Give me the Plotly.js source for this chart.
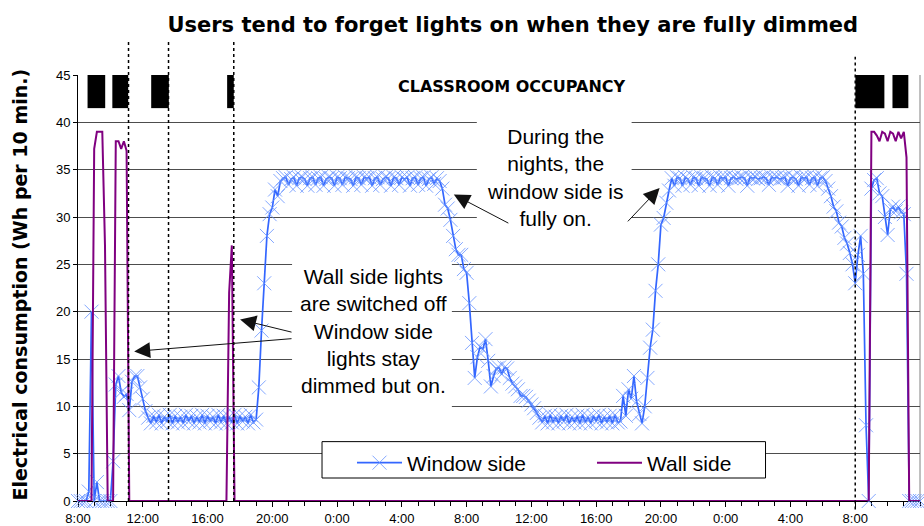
<!DOCTYPE html>
<html>
<head>
<meta charset="utf-8">
<script src="https://cdn.plot.ly/plotly-3.0.1.min.js"></script>
<style>html,body{margin:0;padding:0;background:#fff}#chart{width:924px;height:526px}</style>
</head>
<body>
<div id="chart"></div>
<script>
// ---- DATA (10-minute readings starting 8:00 on day 1) ----
const windowSide = [
  // 8:00 - 12:20
  0,0,0,0,1, 20,0,2,0,0, 0,0,0,4.2,12.3, 13.2,11.5,11.0,11.3,9.6, 12.6,13.2,13.2,12.0,10.8, 9.5,8.8,
  // dimmed afternoon
  8.2,9.0,8.3,9.1,8.2,8.9,8.4,9.1,8.2,9.0, 8.3,8.9,8.2,9.1,8.4,9.0,8.2,8.9,8.3,9.1,
  8.2,9.0,8.4,8.9,8.2,9.1,8.3,9.0,8.2,8.9, 8.3,9.1,8.2,9.0,8.4,8.9,8.2,9.1,8.3,8.6,
  // evening rise
  12.0,18.0,23.0,28.0,30.3,31.0,32.9,32.2,33.8,
  // night 1
  34.1,34.2,33.4,34.0,34.2,33.3,34.1,34.2,34.0,33.3,
  34.1,34.2,33.4,34.1,34.2,33.3,34.0,34.2,34.1,33.3,
  34.2,34.1,33.4,34.2,34.1,34.0,33.3,34.2,34.1,33.4,
  34.2,34.1,34.2,33.3,34.1,34.2,33.4,34.0,34.2,34.1,
  33.3,34.2,34.1,33.4,34.2,34.0,34.2,33.3,34.1,34.2,
  33.4,34.1,34.2,33.3,34.0,34.2,33.5,34.1,
  // morning day 2
  33.8,33.0,31.3,30.9,29.7,28.0,26.6,26.0,26.0,24.5,
  24.1,20.9,16.7,13.0,15.2,16.3,16.0,17.1,14.8,12.1,
  13.2,14.0,14.1,13.4,14.1,14.0,13.0,12.4,12.1,11.8,
  11.1,11.1,11.0,10.6,10.2,9.8,9.3,8.8,
  // dimmed day 2
  8.3,9.0,8.2,9.1,8.3,8.9,8.2,9.0,8.4,9.1,
  8.2,8.9,8.3,9.0,8.2,9.1,8.3,8.9,8.2,9.0,
  8.4,9.1,8.2,8.9,8.3,9.0,8.2,9.1,8.3,8.4,
  // evening day 2
  11.1,9.0,11.8,10.8,13.2,10.5,9.2,8.2,10.0,13.0,16.2,18.1,22.2,25.0,29.2,29.9,31.5,32.8,34.1,
  // night 2
  33.3,34.2,34.1,33.3,34.2,34.0,33.4,34.2,34.1,33.3,
  34.2,34.1,34.0,33.3,34.2,34.1,33.4,34.2,34.1,34.2,
  33.3,34.1,34.2,34.0,34.1,34.2,34.1,33.3,34.2,34.1,
  34.2,34.0,34.1,34.2,34.1,33.4,34.2,34.1,34.2,34.0,
  34.1,34.2,33.3,34.1,34.2,34.0,33.3,34.2,34.1,34.2,
  33.4,34.1,34.2,33.3,34.1,34.2,33.8,
  // morning day 3
  33.0,32.2,31.1,30.6,29.4,29.0,27.8,27.2,26.2,25.0,
  23.0,26.0,28.0,24.0,8.0,0,33.0,33.9,34.1,32.5,
  32.2,30.0,28.1,30.8,31.1,30.6,31.1,30.5,30.3,24.0,
  0,0,0,0,0
];

const wallSide = [
  0,0,0,0,0,0,
  37.2,39,39,39,27,0,0,0,38,38,37.2,38,37,0,
  0,0,0,0,0,0,0,0,0,0,0,0,0,0,0,0,0,0,0,0,
  0,0,0,0,0,0,0,0,0,0,0,0,0,0,0,0,
  22,27,0,
  0,0,0,0,0,0,0,0,0,0,0,0,0,0,0,0,0,0,0,0,
  0,0,0,0,0,0,0,0,0,0,0,0,0,0,0,0,0,0,0,0,
  0,0,0,0,0,0,0,0,0,0,0,0,0,0,0,0,0,0,0,0,
  0,0,0,0,0,0,0,0,0,0,0,0,0,0,0,0,0,0,0,0,
  0,0,0,0,0,0,0,0,0,0,0,0,0,0,0,0,0,0,0,0,
  0,0,0,0,0,0,0,0,0,0,0,0,0,0,0,0,0,0,0,0,
  0,0,0,0,0,0,0,0,0,0,0,0,0,0,0,0,0,0,0,0,
  0,0,0,0,0,0,0,0,0,0,0,0,0,0,0,0,0,0,0,0,
  0,0,0,0,0,0,0,0,0,0,0,0,0,0,0,0,0,0,0,0,
  0,0,0,0,0,0,0,0,0,0,0,0,0,0,0,0,0,0,0,0,
  0,0,0,0,0,0,0,0,0,0,0,0,0,0,0,0,0,0,0,0,
  0,0,0,0,0,0,0,0,0,0,0,0,0,0,0,
  39,39,38.6,38,39,38.8,38,39,38.8,38,39,38.3,39,36.3,
  0,0,0,0,0
];

// hours after 8:00 on day 1
const tickHours  = [0,4,8,12,16,20,24,28,32,36,40,44,48];
const tickLabels = ['8:00','12:00','16:00','20:00','0:00','4:00','8:00','12:00','16:00','20:00','0:00','4:00','8:00'];
const occupancyStart = [0.59, 2.12, 4.52, 9.21, 48.01, 50.30];
const occupancyEnd   = [1.68, 3.10, 5.61, 9.62, 49.80, 51.28];
const markerHours    = [3.12, 5.59, 9.62, 48.0];
const seriesNames    = ['Window side', 'Wall side'];

// ---- CHART ----
const traces = [
  {
    type: 'scatter', mode: 'lines+markers', name: seriesNames[0],
    y: windowSide, x0: 0, dx: 1/6,
    line: {color: '#3366ff', width: 1.7},
    marker: {symbol: 'x-thin', size: 14, color: '#6f95ff', line: {color: 'rgba(100,145,255,0.8)', width: 1}},
    cliponaxis: false, hoverinfo: 'skip'
  },
  {
    type: 'scatter', mode: 'lines', name: seriesNames[1],
    y: wallSide, x0: 0, dx: 1/6,
    line: {color: '#800080', width: 2},
    cliponaxis: false, hoverinfo: 'skip'
  }
];

const shapes = [];
// white boxes behind the text notes (hide gridlines)
shapes.push({type:'rect', xref:'x', yref:'y', x0:13.22, x1:23.09, y0:9.5, y1:26.6, fillcolor:'#fff', line:{width:0}, layer:'between'});
shapes.push({type:'rect', xref:'x', yref:'y', x0:24.63, x1:34.19, y0:27.6, y1:41.3, fillcolor:'#fff', line:{width:0}, layer:'between'});
// legend frame
shapes.push({type:'rect', xref:'x', yref:'y', x0:15.07, x1:42.46, y0:2.43, y1:6.27, fillcolor:'#fff', line:{color:'#000', width:1}, layer:'between'});
// occupancy blocks
occupancyStart.forEach((s, i) => {
  shapes.push({type:'rect', xref:'x', yref:'y', x0:s, x1:occupancyEnd[i], y0:41.5, y1:45, fillcolor:'#000', line:{width:0}, layer:'above'});
});
// dotted event lines
const dottedTop = [1.079, 1.079, 1.079, 1.043];
const dottedBottom = [0, 0, 0, -0.02];
markerHours.forEach((h, i) => {
  shapes.push({type:'line', xref:'x', yref:'paper', x0:h, x1:h, y0:dottedBottom[i], y1:dottedTop[i], line:{color:'#000', width:1.5, dash:'dot'}, layer:'above'});
});
// right frame edge
shapes.push({type:'line', xref:'x domain', yref:'paper', x0:1, x1:1, y0:0, y1:1, line:{color:'#808080', width:1}, layer:'between'});

const noteFont = {family:'Liberation Sans, Arial, sans-serif', size:21, color:'#000'};
function arrow(tipH, tipV, tailH, tailV) {
  return {x:tipH, y:tipV, xref:'x', yref:'y', ax:tailH, ay:tailV, axref:'x', ayref:'y',
          text:'', showarrow:true, arrowhead:2, arrowsize:3.2, arrowwidth:1, arrowcolor:'#111', standoff:0, startstandoff:0};
}
const annotations = [
  {x:18.22, y:18.0, xref:'x', yref:'y', showarrow:false, align:'center',
   text:'Wall side lights<br>are switched off<br>Window side<br>lights stay<br>dimmed but on.', font:noteFont},
  {x:29.45, y:34.16, xref:'x', yref:'y', showarrow:false, align:'center',
   text:'During the<br>nights, the<br>window side is<br>fully on.', font:noteFont},
  {x:26.82, y:43.77, xref:'x', yref:'y', showarrow:false,
   text:'<b>CLASSROOM OCCUPANCY</b>', font:{family:'DejaVu Sans', size:16, color:'#000'}},
  {x:-0.0689, y:0.508, xref:'paper', yref:'paper', showarrow:false, textangle:-90, xanchor:'center', yanchor:'middle',
   text:'<b>Electrical consumption (Wh per 10 min.)</b>', font:{family:'DejaVu Sans', size:19, color:'#000'}},
  arrow(3.47, 15.8, 13.28, 17.16),
  arrow(10.01, 19.17, 13.28, 17.8),
  arrow(23.21, 32.37, 26.67, 29.27),
  arrow(35.92, 33.07, 33.87, 29.38)
];

const tickFont = {family:'Liberation Sans, Arial, sans-serif', size:13, color:'#000'};
const layout = {
  width: 924, height: 526,
  margin: {l:78, r:4, t:75, b:25},
  paper_bgcolor: '#fff', plot_bgcolor: '#fff',
  title: {text:'<b>Users tend to forget lights on when they are fully dimmed</b>',
          font:{family:'DejaVu Sans', size:21, color:'#000'},
          x:0.555, xanchor:'center', xref:'container', y:0.954, yanchor:'middle', yref:'container'},
  xaxis: {range:[0,52], tickmode:'array', tickvals:tickHours, ticktext:tickLabels,
          ticks:'outside', ticklen:5, tickcolor:'#000', showline:true, linecolor:'#000', linewidth:1,
          showgrid:false, zeroline:false, tickfont:tickFont, layer:'below traces',
          minor:{dtick:1, tick0:0, ticks:'outside', ticklen:4, tickcolor:'#000', showgrid:false}},
  yaxis: {range:[0,45], tick0:0, dtick:5, ticks:'outside', ticklen:4, tickcolor:'#000',
          showline:true, linecolor:'#000', linewidth:1, showgrid:true, gridcolor:'#4d4d4d', gridwidth:1,
          zeroline:false, tickfont:tickFont, layer:'below traces'},
  showlegend: true,
  legend: {orientation:'h', x:0.3254, xanchor:'left', y:0.1373, yanchor:'top',
           bgcolor:'rgba(0,0,0,0)', borderwidth:0, font:noteFont,
           entrywidth:180, entrywidthmode:'pixels', itemwidth:45, itemclick:false, itemdoubleclick:false},
  shapes: shapes,
  annotations: annotations
};

Plotly.newPlot('chart', traces, layout, {displayModeBar:false, staticPlot:true});
</script>
</body>
</html>
